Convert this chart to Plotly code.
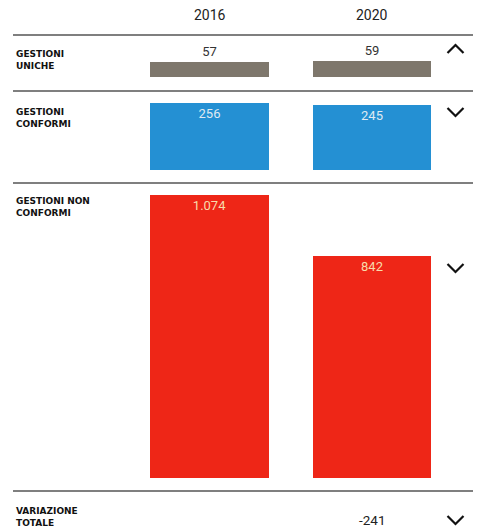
import plotly.graph_objects as go

# ---- data ----
years = ["2016", "2020"]
row_labels = ["GESTIONI<br>UNICHE", "GESTIONI<br>CONFORMI", "GESTIONI NON<br>CONFORMI"]
gestioni_uniche = [57, 59]
gestioni_conformi = [256, 245]
gestioni_non_conformi = [1074, 842]
total_label = "VARIAZIONE<br>TOTALE"

variazione_totale = (sum(v[1] for v in [gestioni_uniche, gestioni_conformi, gestioni_non_conformi])
                     - sum(v[0] for v in [gestioni_uniche, gestioni_conformi, gestioni_non_conformi]))

# ---- layout geometry (pixels) ----
W, H = 478, 531
S = 283 / 1074  # px per unit, shared scale across rows

def py(px):
    return (H - px) / H

def pxx(px):
    return px / W

rows = [
    # values, color, axis name, bottom px, top px, text pos, text color
    (gestioni_uniche, "#7e776c", "y3", 77, 57, "outside", "#333333"),
    (gestioni_conformi, "#2490d3", "y2", 170, 96, "inside", "#dfeaf2"),
    (gestioni_non_conformi, "#ee2617", "y", 478, 188, "inside", "#f8dcab"),
]

NUMFONT = "Roboto"
LABFONT = dict(family="DejaVu Sans", size=9, color="#111111", weight="bold")
fig = go.Figure()
layout_axes = {}
for vals, color, ax, bot, top, tpos, tcol in rows:
    fig.add_trace(go.Bar(
        x=years, y=vals, yaxis=ax, xaxis="x",
        marker=dict(color=color, line=dict(width=0)),
        width=0.73,
        texttemplate="%{y:,}",
        textposition=tpos,
        insidetextanchor="end",
        textfont=dict(color=tcol, size=13, family=NUMFONT),
        cliponaxis=False,
        hoverinfo="skip",
        showlegend=False,
    ))
    key = "yaxis" if ax == "y" else "yaxis" + ax[1:]
    layout_axes[key] = dict(
        domain=[py(bot), py(top)],
        range=[0, (bot - top) / S],
        anchor="x",
        visible=False,
        fixedrange=True,
    )

shapes = []
for ypx in [35, 91, 183, 491]:
    shapes.append(dict(type="line", xref="paper", yref="paper",
                       x0=pxx(13), x1=pxx(473), y0=py(ypx), y1=py(ypx),
                       line=dict(color="#555555", width=1.5)))

def chevron(cy, up):
    cx, hw, hh = 455.5, 8, 4
    if up:
        pts = [(cx - hw, cy + hh), (cx, cy - hh), (cx + hw, cy + hh)]
    else:
        pts = [(cx - hw, cy - hh), (cx, cy + hh), (cx + hw, cy - hh)]
    path = "M " + " L ".join(f"{pxx(x):.5f},{py(y):.5f}" for x, y in pts)
    return dict(type="path", xref="paper", yref="paper", path=path,
                line=dict(color="#111111", width=2.2))

series = [gestioni_uniche, gestioni_conformi, gestioni_non_conformi]
chev_y = [49, 112, 268]
for vals, cy in zip(series, chev_y):
    shapes.append(chevron(cy, vals[1] > vals[0]))
shapes.append(chevron(520, variazione_totale > 0))

annotations = []
for i, yr in enumerate(years):
    annotations.append(dict(x=i, xref="x", y=py(15), yref="paper",
                            text=yr, showarrow=False, yanchor="middle",
                            font=dict(family=NUMFONT, size=14, color="#222222")))

label_tops = [47, 105, 194]
for lab, t in zip(row_labels, label_tops):
    annotations.append(dict(x=pxx(14), xref="paper", y=py(t), yref="paper",
                            text=lab, showarrow=False, xanchor="left", yanchor="top",
                            align="left", font=LABFONT))
annotations.append(dict(x=pxx(14), xref="paper", y=py(504), yref="paper",
                        text=total_label, showarrow=False, xanchor="left", yanchor="top",
                        align="left", font=LABFONT))
annotations.append(dict(x=1, xref="x", y=py(519.5), yref="paper",
                        text=f"{variazione_totale}", showarrow=False, yanchor="middle",
                        font=dict(family=NUMFONT, size=13.5, color="#222222")))

fig.update_layout(
    width=W, height=H,
    margin=dict(l=0, r=0, t=0, b=0),
    paper_bgcolor="white", plot_bgcolor="white",
    separators=",.",
    bargap=0,
    xaxis=dict(type="category", range=[-209.5 / 162.5, (W - 209.5) / 162.5],
               domain=[0, 1], visible=False, fixedrange=True),
    shapes=shapes,
    annotations=annotations,
    **layout_axes,
)

fig.write_html("out.html", config={"displayModeBar": False})
